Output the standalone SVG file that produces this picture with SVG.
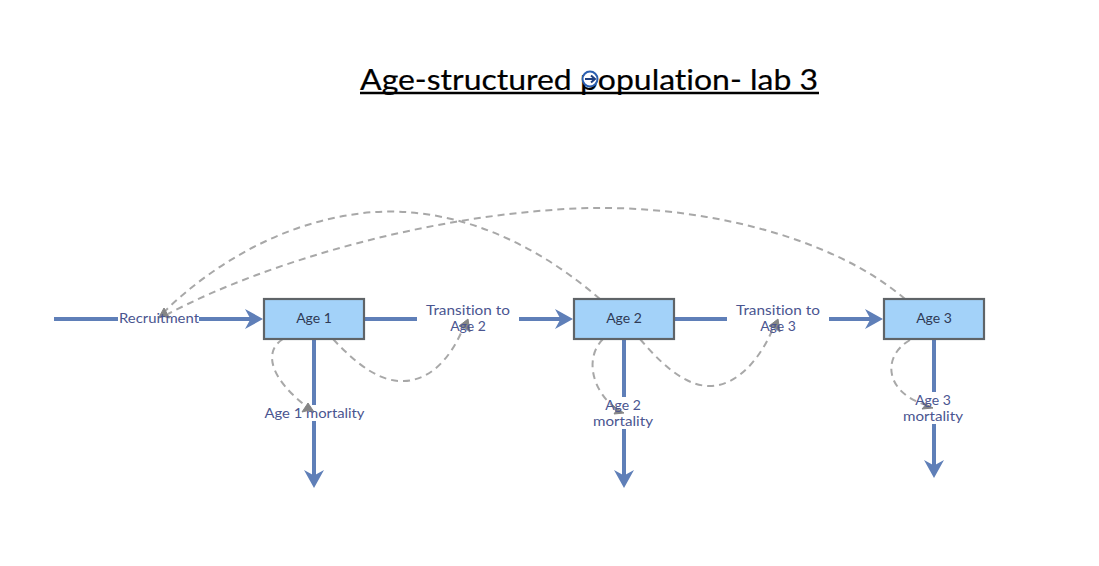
<svg xmlns="http://www.w3.org/2000/svg" width="1099" height="566" viewBox="0 0 1099 566">
<style>
text{font-family:"Comic Sans MS","Lato","Noto Sans",sans-serif;font-variant-ligatures:none}
.box{fill:#a3d2f9;stroke:#5f6468;stroke-width:2.200}
.flow{fill:none;stroke:#5f7fb8;stroke-width:4}
.link{fill:none;stroke:#a8a8a8;stroke-width:2;stroke-dasharray:7 5}
.head{fill:#858585;stroke:#858585;stroke-width:1;stroke-linejoin:round}
.node{font-size:14px;fill:#2f3a55;text-anchor:middle}
.lab{font-size:14px;fill:#4a5590;text-anchor:middle}
.gap{fill:#fff}
</style>
<defs>
<marker id="fh" markerUnits="userSpaceOnUse" markerWidth="20" markerHeight="22" refX="10" refY="11" orient="auto"><path d="M0 1L18 11L0 21L5.500 11Z" fill="#5f7fb8"/></marker>
</defs>
<g id="title">
<text x="589" y="90" font-size="29" fill="#000" stroke="#000" stroke-width=".2" text-anchor="middle" textLength="458" lengthAdjust="spacingAndGlyphs">Age-structured population- lab 3</text>
<line x1="360" y1="93" x2="819" y2="93" stroke="#000" stroke-width="2.500"/>
<circle cx="590" cy="79" r="7.500" fill="#fff" stroke="#2b5fb0" stroke-width="2"/>
<path d="M585 79H594M591 75.500L595 79L591 82.500" fill="none" stroke="#1f3f80" stroke-width="2"/>
</g>
<g id="connectors">
<path class="flow" marker-end="url(#fh)" d="M54 319H255"/>
<path class="flow" marker-end="url(#fh)" d="M364 319H565"/>
<path class="flow" marker-end="url(#fh)" d="M674 319H875"/>
<path class="flow" marker-end="url(#fh)" d="M314 339V480"/>
<path class="flow" marker-end="url(#fh)" d="M624 339V480"/>
<path class="flow" marker-end="url(#fh)" d="M934 339V470"/>
<rect class="gap" x="118" y="310" width="81" height="18"/>
<rect class="gap" x="417" y="301" width="102" height="34"/>
<rect class="gap" x="727" y="301" width="102" height="34"/>
<rect class="gap" x="264" y="405" width="101" height="16"/>
<rect class="gap" x="592" y="397" width="63" height="32"/>
<rect class="gap" x="902" y="392" width="63" height="32"/>
<path class="link" d="M600 299C520 230 440 208 375 212C290 218 215 262 164 312"/>
<path class="link" d="M905 299C830 235 700 206 590 208C440 212 270 260 168 314"/>
<path class="link" d="M283 339C262 352 272 380 306 406"/>
<path class="link" d="M333 339C360 368 382 382 404 381C432 380 452 356 464 326"/>
<path class="link" d="M603 339C584 358 592 392 618 410"/>
<path class="link" d="M640 339C668 372 690 387 712 386C740 384 762 356 774 326"/>
<path class="link" d="M910 340C882 356 884 392 926 405"/>
<polygon class="head" points="164,308 169.500,318 164,316.500 158.500,318"/>
<polygon class="head" points="308,403 314,412 308,410.500 302,412"/>
<polygon class="head" points="468,319 470,332 465.500,328.500 459,326"/>
<polygon class="head" points="778,319 780,332 775.500,328.500 769,326"/>
<polygon class="head" points="624,413 614,414 616.500,410 612,405"/>
<polygon class="head" points="933,408 922,409 925,405.500 922,402"/>
</g>
<g id="recruitment"><text class="lab" x="159" y="323" textLength="80" lengthAdjust="spacingAndGlyphs">Recruitment</text></g>
<g id="age1"><rect class="box" x="264" y="299" width="100" height="40"/><text class="node" x="314" y="323">Age 1</text></g>
<g id="age2"><rect class="box" x="574" y="299" width="100" height="40"/><text class="node" x="624" y="323">Age 2</text></g>
<g id="age3"><rect class="box" x="884" y="299" width="100" height="40"/><text class="node" x="934" y="323">Age 3</text></g>
<g id="transition2"><text class="lab" x="468" y="315" textLength="84" lengthAdjust="spacingAndGlyphs">Transition to</text><text class="lab" x="468" y="331">Age 2</text></g>
<g id="transition3"><text class="lab" x="778" y="315" textLength="84" lengthAdjust="spacingAndGlyphs">Transition to</text><text class="lab" x="778" y="331">Age 3</text></g>
<g id="mortality1"><text class="lab" x="314.500" y="418" textLength="100" lengthAdjust="spacingAndGlyphs">Age 1 mortality</text></g>
<g id="mortality2"><text class="lab" x="623" y="410">Age 2</text><text class="lab" x="623" y="426" textLength="60" lengthAdjust="spacingAndGlyphs">mortality</text></g>
<g id="mortality3"><text class="lab" x="933" y="405">Age 3</text><text class="lab" x="933" y="421" textLength="60" lengthAdjust="spacingAndGlyphs">mortality</text></g>
</svg>
